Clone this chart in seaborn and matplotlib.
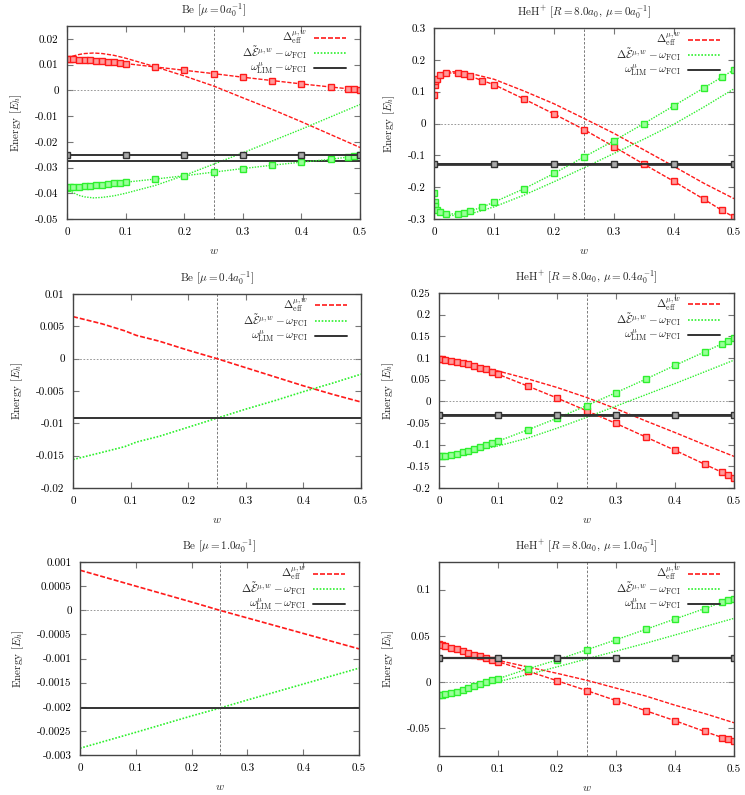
import numpy as np
import pandas as pd
import matplotlib
matplotlib.use("Agg")
import matplotlib.pyplot as plt
from matplotlib.lines import Line2D
from matplotlib.ticker import MultipleLocator, FuncFormatter
import seaborn as sns

# ---------------- data ----------------
W_FINE = [0, 0.005, 0.01, 0.02, 0.03, 0.04, 0.05, 0.06, 0.07, 0.08, 0.09, 0.1,
          0.15, 0.2, 0.25, 0.3, 0.35, 0.4, 0.45, 0.48, 0.49, 0.5]
W_BLACK = [0, 0.1, 0.2, 0.3, 0.4, 0.5]
W_REF = 0.25

# Panel 1: Be, mu = 0
P1_RED_MARK = [0.0123, 0.0123, 0.0122, 0.0118, 0.0117, 0.0116, 0.0114, 0.0113, 0.0110, 0.0109, 0.0107,
               0.0104, 0.0091, 0.0078, 0.0065, 0.0051, 0.0038, 0.0025, 0.0013, 0.0006, 0.0004, 0.0001]
P1_GREEN_MARK = [-0.0378, -0.0377, -0.0376, -0.0375, -0.0373, -0.0371, -0.0369, -0.0366, -0.0365, -0.0362,
                 -0.0360, -0.0357, -0.0345, -0.0332, -0.0318, -0.0304, -0.0291, -0.0279, -0.0268, -0.0259,
                 -0.0257, -0.0253]
P1_W_LINE = [0, 0.01, 0.02, 0.03, 0.045, 0.06, 0.08, 0.1, 0.15, 0.2, 0.25, 0.3, 0.35, 0.4, 0.45, 0.5]
P1_RED_LINE = [0.0123, 0.0133, 0.0139, 0.0143, 0.0145, 0.0143, 0.0136, 0.0125, 0.0092, 0.0056, 0.0017,
               -0.0029, -0.0074, -0.0122, -0.0172, -0.0222]
P1_GREEN_LINE = [-0.0382, -0.0397, -0.0408, -0.0414, -0.0418, -0.0416, -0.0410, -0.0400, -0.0370, -0.0331,
                 -0.0287, -0.0243, -0.0197, -0.0151, -0.0103, -0.0055]
P1_BLACK_MARK = -0.0252
P1_BLACK_LINE = -0.0274

# Panel 2: HeH+, mu = 0
P2_W_MARK = [0, 0.001, 0.002, 0.005, 0.01, 0.02, 0.04, 0.05, 0.06, 0.08, 0.1, 0.15, 0.2, 0.25, 0.3,
             0.35, 0.4, 0.45, 0.48, 0.5]
P2_RED_MARK = [0.089, 0.122, 0.132, 0.140, 0.151, 0.159, 0.158, 0.154, 0.149, 0.135, 0.122, 0.077, 0.030,
               -0.019, -0.073, -0.128, -0.182, -0.238, -0.273, -0.294]
P2_GREEN_MARK = [-0.217, -0.248, -0.258, -0.271, -0.279, -0.284, -0.284, -0.281, -0.275, -0.263, -0.247,
                 -0.205, -0.157, -0.105, -0.054, 0.0, 0.056, 0.112, 0.146, 0.169]
P2_W_LINE = [0, 0.002, 0.005, 0.01, 0.02, 0.03, 0.05, 0.07, 0.1, 0.15, 0.2, 0.25, 0.3, 0.35, 0.4, 0.45, 0.5]
P2_RED_LINE = [0.09, 0.13, 0.145, 0.155, 0.161, 0.163, 0.160, 0.153, 0.139, 0.102, 0.062, 0.016, -0.031,
               -0.083, -0.135, -0.188, -0.236]
P2_GREEN_LINE = [-0.22, -0.255, -0.27, -0.28, -0.287, -0.289, -0.286, -0.279, -0.262, -0.225, -0.183,
                 -0.139, -0.094, -0.049, -0.002, 0.052, 0.109]
P2_BLACK_MARK = -0.126
P2_BLACK_LINE = -0.126

# Panel 3: Be, mu = 0.4
P3_W = [0, 0.05, 0.09, 0.11, 0.15, 0.2, 0.25, 0.3, 0.35, 0.4, 0.45, 0.5]
P3_RED = [0.0065, 0.0054, 0.0043, 0.0036, 0.0027, 0.0013, 0.0, -0.0014, -0.0028, -0.0042, -0.0055, -0.0067]
P3_GREEN = [-0.0156, -0.0145, -0.0136, -0.0129, -0.0120, -0.0106, -0.0092, -0.0078, -0.0065, -0.0051,
            -0.0038, -0.0024]
P3_BLACK = -0.0092

# Panel 4: HeH+, mu = 0.4
P4_RED_MARK = [0.0972, 0.097, 0.0965, 0.094, 0.091, 0.088, 0.085, 0.082, 0.078, 0.074, 0.068, 0.0625,
               0.0355, 0.0077, -0.0216, -0.051, -0.082, -0.113, -0.145, -0.164, -0.170, -0.177]
P4_GREEN_MARK = [-0.127, -0.127, -0.1265, -0.124, -0.121, -0.117, -0.114, -0.110, -0.106, -0.101, -0.0965,
                 -0.092, -0.066, -0.039, -0.010, 0.020, 0.051, 0.083, 0.114, 0.133, 0.140, 0.147]
P4_W_LINE = [0, 0.05, 0.1, 0.15, 0.2, 0.25, 0.3, 0.35, 0.4, 0.45, 0.5]
P4_RED_LINE = [0.097, 0.086, 0.070, 0.052, 0.032, 0.009, -0.017, -0.045, -0.072, -0.100, -0.127]
P4_GREEN_LINE = [-0.127, -0.117, -0.103, -0.085, -0.062, -0.037, -0.011, 0.015, 0.041, 0.068, 0.095]
P4_BLACK_MARK = -0.032
P4_BLACK_LINE = -0.032

# Panel 5: Be, mu = 1.0
P5_W = [0, 0.1, 0.2, 0.25, 0.3, 0.4, 0.5]
P5_RED = [0.00083, 0.0005, 0.00017, 0.0, -0.00016, -0.00048, -0.0008]
P5_GREEN = [-0.00286, -0.00253, -0.00219, -0.00203, -0.00186, -0.00153, -0.0012]
P5_BLACK = -0.00203

# Panel 6: HeH+, mu = 1.0
P6_RED_MARK = [0.0407, 0.040, 0.0389, 0.0374, 0.0356, 0.0334, 0.0316, 0.0298, 0.028, 0.0261, 0.024, 0.0221,
               0.012, 0.0015, -0.0091, -0.020, -0.0309, -0.0418, -0.0534, -0.060, -0.062, -0.0643]
P6_GREEN_MARK = [-0.0145, -0.0138, -0.013, -0.0116, -0.0102, -0.0084, -0.0062, -0.004, -0.0022, 0.0, 0.0018,
                 0.0036, 0.0142, 0.024, 0.0349, 0.0458, 0.057, 0.0683, 0.0795, 0.0864, 0.0886, 0.0904]
P6_W_LINE = [0, 0.05, 0.1, 0.15, 0.2, 0.25, 0.3, 0.35, 0.4, 0.45, 0.5]
P6_RED_LINE = [0.0407, 0.0318, 0.0235, 0.0165, 0.0095, 0.002, -0.0065, -0.015, -0.025, -0.034, -0.044]
P6_GREEN_LINE = [-0.0145, -0.0075, 0.0005, 0.008, 0.0165, 0.025, 0.0335, 0.042, 0.051, 0.06, 0.069]
P6_BLACK_MARK = 0.0258

TITLES = [r"Be [$\mu = 0a_0^{-1}$]",
          r"HeH$^{+}$ [$R = 8.0a_0$, $\mu = 0a_0^{-1}$]",
          r"Be [$\mu = 0.4a_0^{-1}$]",
          r"HeH$^{+}$ [$R = 8.0a_0$, $\mu = 0.4a_0^{-1}$]",
          r"Be [$\mu = 1.0a_0^{-1}$]",
          r"HeH$^{+}$ [$R = 8.0a_0$, $\mu = 1.0a_0^{-1}$]"]
LEGEND_LABELS = [r"$\Delta^{\mu,w}_{\mathrm{eff}}$",
                 r"$\Delta\tilde{\mathcal{E}}^{\mu,w} - \omega_{\mathrm{FCI}}$",
                 r"$\omega^{\mu}_{\mathrm{LIM}} - \omega_{\mathrm{FCI}}$"]
YLIMS = [(-0.05, 0.025), (-0.3, 0.3), (-0.02, 0.01), (-0.2, 0.25), (-0.003, 0.001), (-0.08, 0.13)]
YSTEPS = [0.01, 0.1, 0.005, 0.05, 0.0005, 0.05]

# ---------------- style ----------------
sns.set_theme(style="ticks")
plt.rcParams.update({
    "font.family": "serif",
    "font.serif": ["cmr10", "DejaVu Serif"],
    "mathtext.fontset": "cm",
    "axes.unicode_minus": False,
    "axes.formatter.use_mathtext": True,
    "font.size": 8,
})

RED = "#ff1a1a"
GREEN = "#2ef02e"
BLACK = "#333333"
RED_FILL = "#ff9a9a"
GREEN_FILL = "#99ff99"
BLACK_FILL = "#aaaaaa"
FRAME = "#444444"
RED_DASH = (3, 1.2)
GREEN_DASH = (1, 1)

W_PX, H_PX = 745, 795
fig = plt.figure(figsize=(W_PX / 100, H_PX / 100), dpi=100)

BOXES = [(67, 360, 26, 219), (434, 734, 28, 219),
         (73, 361, 294, 488), (439, 734, 293, 488),
         (80, 359, 562, 755), (439, 734, 562, 756)]


def fmt(v, pos):
    r = round(v, 6)
    if abs(r) < 1e-12:
        return "0"
    return f"{r:g}"


def line(ax, x, y, color, dashes=None, lw=1.0):
    sns.lineplot(x=x, y=y, ax=ax, color=color, lw=lw, estimator=None, sort=False, legend=False)
    ln = ax.lines[-1]
    if dashes is not None:
        ln.set_dashes(dashes)
    return ln


def marked(ax, x, y, color, fill, dashes=None, lw=1.0):
    sns.lineplot(x=x, y=y, ax=ax, color=color, lw=lw, estimator=None, sort=False, legend=False,
                 marker="s", markersize=4.6, markerfacecolor=fill, markeredgecolor=color,
                 markeredgewidth=1.0)
    ln = ax.lines[-1]
    if dashes is not None:
        ln.set_dashes(dashes)
    return ln


axes = []
for i, (l, r, t, b) in enumerate(BOXES):
    ax = fig.add_axes([l / W_PX, 1 - b / H_PX, (r - l) / W_PX, (b - t) / H_PX])
    axes.append(ax)
    ax.axhline(0, color="#888888", lw=0.6, ls=(0, (2, 2)), zorder=1)
    ax.axvline(W_REF, color="#666666", lw=0.6, ls=(0, (3, 2)), zorder=1)

const = lambda c, w: [c] * len(w)

# panel 1
ax = axes[0]
line(ax, P1_W_LINE, P1_RED_LINE, RED, RED_DASH)
line(ax, P1_W_LINE, P1_GREEN_LINE, GREEN, GREEN_DASH)
line(ax, W_BLACK, const(P1_BLACK_LINE, W_BLACK), BLACK, None, 1.4)
marked(ax, W_FINE, P1_RED_MARK, RED, RED_FILL, RED_DASH)
marked(ax, W_FINE, P1_GREEN_MARK, GREEN, GREEN_FILL, GREEN_DASH)
marked(ax, W_BLACK, const(P1_BLACK_MARK, W_BLACK), BLACK, BLACK_FILL, None, 1.4)

# panel 2
ax = axes[1]
line(ax, P2_W_LINE, P2_RED_LINE, RED, RED_DASH)
line(ax, P2_W_LINE, P2_GREEN_LINE, GREEN, GREEN_DASH)
line(ax, W_BLACK, const(P2_BLACK_LINE, W_BLACK), BLACK, None, 2.0)
marked(ax, P2_W_MARK, P2_RED_MARK, RED, RED_FILL, RED_DASH)
marked(ax, P2_W_MARK, P2_GREEN_MARK, GREEN, GREEN_FILL, GREEN_DASH)
marked(ax, W_BLACK, const(P2_BLACK_MARK, W_BLACK), BLACK, BLACK_FILL, None, 1.4)

# panel 3
ax = axes[2]
line(ax, P3_W, P3_RED, RED, RED_DASH, 1.2)
line(ax, P3_W, P3_GREEN, GREEN, GREEN_DASH, 1.2)
line(ax, W_BLACK, const(P3_BLACK, W_BLACK), BLACK, None, 1.4)

# panel 4
ax = axes[3]
line(ax, P4_W_LINE, P4_RED_LINE, RED, RED_DASH)
line(ax, P4_W_LINE, P4_GREEN_LINE, GREEN, GREEN_DASH)
line(ax, W_BLACK, const(P4_BLACK_LINE, W_BLACK), BLACK, None, 2.0)
marked(ax, W_FINE, P4_RED_MARK, RED, RED_FILL, RED_DASH)
marked(ax, W_FINE, P4_GREEN_MARK, GREEN, GREEN_FILL, GREEN_DASH)
marked(ax, W_BLACK, const(P4_BLACK_MARK, W_BLACK), BLACK, BLACK_FILL, None, 1.4)

# panel 5
ax = axes[4]
line(ax, P5_W, P5_RED, RED, RED_DASH, 1.2)
line(ax, P5_W, P5_GREEN, GREEN, GREEN_DASH, 1.2)
line(ax, W_BLACK, const(P5_BLACK, W_BLACK), BLACK, None, 1.4)

# panel 6
ax = axes[5]
line(ax, P6_W_LINE, P6_RED_LINE, RED, RED_DASH)
line(ax, P6_W_LINE, P6_GREEN_LINE, GREEN, GREEN_DASH)
marked(ax, W_FINE, P6_RED_MARK, RED, RED_FILL, RED_DASH)
marked(ax, W_FINE, P6_GREEN_MARK, GREEN, GREEN_FILL, GREEN_DASH)
marked(ax, W_BLACK, const(P6_BLACK_MARK, W_BLACK), BLACK, BLACK_FILL, None, 1.6)

KEY_STYLES = [dict(color=RED, lw=1.2, dashes=RED_DASH),
              dict(color=GREEN, lw=1.2, dashes=GREEN_DASH),
              dict(color=BLACK, lw=1.4)]

for i, ax in enumerate(axes):
    l, r, t, b = BOXES[i]
    wpx, hpx = r - l, b - t
    ax.set_xlim(0, 0.5)
    ax.set_ylim(*YLIMS[i])
    ax.xaxis.set_major_locator(MultipleLocator(0.1))
    ax.yaxis.set_major_locator(MultipleLocator(YSTEPS[i]))
    ax.xaxis.set_major_formatter(FuncFormatter(fmt))
    ax.yaxis.set_major_formatter(FuncFormatter(fmt))
    ax.tick_params(direction="in", top=True, right=True, length=4, width=0.8,
                   labelsize=8, pad=6, color="#777777", labelcolor="black")
    for s in ax.spines.values():
        s.set_visible(True)
        s.set_color(FRAME)
        s.set_linewidth(1.0)
    ax.set_facecolor("white")
    ax.set_title(TITLES[i], fontsize=8, pad=9)
    ax.set_xlabel(r"$w$", fontsize=8, labelpad=7)
    ax.set_ylabel(r"Energy [$E_h$]", fontsize=8, labelpad=8)
    # gnuplot-style key: right-aligned label then line sample
    for k, (lab, st) in enumerate(zip(LEGEND_LABELS, KEY_STYLES)):
        yk = 1 - (11.5 + 15.3 * k) / hpx
        ax.text(1 - 53 / wpx, yk, lab, transform=ax.transAxes, ha="right", va="center",
                fontsize=8, zorder=6)
        ax.add_line(Line2D([1 - 46 / wpx, 1 - 14 / wpx], [yk, yk], transform=ax.transAxes,
                           zorder=6, **st))

fig.savefig("out.png", dpi=100, facecolor="white")
